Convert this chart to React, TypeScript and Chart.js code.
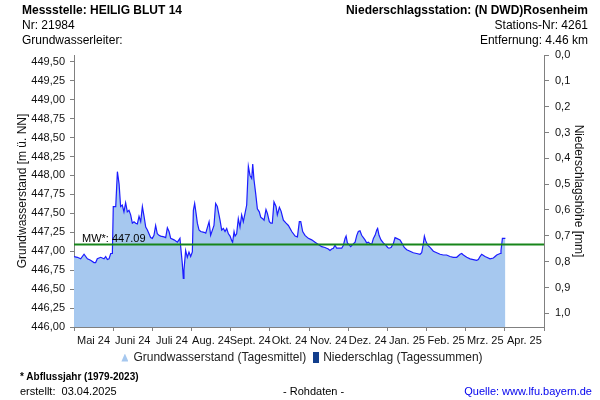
import React, { useEffect, useRef } from "react";
import { Chart, registerables } from "chart.js";

Chart.register(...registerables);

const monthLabels = ["Mai 24", "Juni 24", "Juli 24", "Aug. 24", "Sept. 24", "Okt. 24", "Nov. 24", "Dez. 24", "Jan. 25", "Feb. 25", "Mrz. 25", "Apr. 25"];

// days after 01.05.2024
const dayOffsets = [
  0, 2.6, 5.2, 7.8, 10.4, 12.9, 15.5, 16.8, 18.1, 20.7, 23.3, 24.6, 25.9, 27.2, 28.5, 29.8,
  30.5, 32.4, 33.7, 35.0, 36.2, 37.5, 38.8, 40.1, 41.4, 42.7, 44.0, 45.3, 46.6, 47.9, 49.2,
  50.5, 51.8, 53.1, 54.4, 55.7, 57.0, 59.5, 60.8, 62.1, 63.4, 64.7, 66.0, 67.3, 69.9, 71.2,
  72.5, 73.8, 75.1, 77.7, 80.3, 82.3, 82.8, 84.1, 84.9, 85.4, 86.7, 88.0, 89.3, 90.6, 91.9,
  92.7, 93.7, 94.8, 95.8, 97.1, 98.4, 101.0, 102.3, 104.9, 106.1, 108.7, 110.0, 111.3, 112.6,
  113.4, 114.7, 116.0, 117.3, 118.6, 119.9, 121.2, 122.5, 123.2, 124.3, 125.1, 126.3, 127.6,
  128.9, 130.2, 131.5, 132.8, 134.1, 135.4, 136.7, 138.0, 138.8, 139.8, 141.1, 142.4, 143.9,
  145.0, 146.5, 147.6, 149.1, 150.2, 151.7, 152.8, 154.0, 155.3, 156.9, 157.9, 159.5, 160.8,
  162.6, 164.7, 166.5, 169.1, 171.7, 173.5, 175.0, 176.1, 177.6, 179.4, 182.0, 184.6, 187.2,
  189.8, 192.4, 194.9, 196.2, 197.5, 198.8, 200.1, 201.4, 202.7, 204.0, 205.3, 207.9, 209.2,
  210.5, 211.3, 212.3, 213.9, 214.9, 216.5, 218.3, 219.6, 220.8, 222.1, 223.4, 226.0,
  227.3, 228.6, 229.9, 231.2, 232.5, 233.8, 235.1, 235.8, 236.9, 238.4, 240.2, 242.1, 243.6,
  244.6, 246.2, 248.0, 249.3, 250.6, 253.2, 254.5, 256.5, 258.4, 261.0, 263.5, 266.1, 268.7,
  270.0, 271.3, 272.1, 273.1, 274.7, 276.5, 279.1, 281.7, 284.3, 286.8, 289.4, 292.0, 294.6,
  297.2, 299.8, 301.1, 302.4, 305.0, 307.6, 310.1, 312.7, 314.0, 315.3, 316.6, 319.2, 320.5,
  323.1, 325.7, 327.0, 328.3, 330.9, 331.6, 332.7, 334.7, 335.0,
];

// Grundwasserstand [m ü. NN], daily means
const groundwaterLevels = [
  446.93, 446.92, 446.90, 446.96, 446.90, 446.88, 446.85, 446.85, 446.90, 446.92, 446.90, 446.93, 446.89, 446.90, 446.97, 446.97,
  447.59, 447.59, 448.05, 447.89, 447.59, 447.61, 447.52, 447.64, 447.52, 447.54, 447.48, 447.37, 447.39, 447.37, 447.36,
  447.46, 447.39, 447.59, 447.46, 447.32, 447.28, 447.18, 447.17, 447.21, 447.34, 447.23, 447.21, 447.20, 447.19, 447.18,
  447.31, 447.26, 447.17, 447.15, 447.12, 447.17, 447.07, 446.84, 446.64, 446.75, 447.01, 446.92, 446.99, 446.93, 446.99,
  447.54, 447.63, 447.50, 447.37, 447.28, 447.26, 447.25, 447.24, 447.39, 447.21, 447.34, 447.63, 447.59, 447.48,
  447.41, 447.28, 447.30, 447.26, 447.30, 447.23, 447.20, 447.14, 447.12, 447.26, 447.20, 447.23, 447.43,
  447.32, 447.48, 447.39, 447.50, 447.61, 448.12, 448.00, 447.96, 448.15, 447.94, 447.76, 447.56, 447.52,
  447.45, 447.43, 447.41, 447.55, 447.50, 447.39, 447.37, 447.37, 447.65, 447.59, 447.48, 447.58, 447.53,
  447.41, 447.37, 447.34, 447.26, 447.20, 447.19, 447.39, 447.39, 447.26, 447.21, 447.17, 447.15, 447.12,
  447.09, 447.06, 447.05, 447.04, 447.03, 447.01, 447.03, 447.04, 447.08, 447.04, 447.04, 447.04, 447.08,
  447.17, 447.20, 447.11, 447.08, 447.06, 447.09, 447.12, 447.21, 447.26, 447.27, 447.21, 447.15,
  447.11, 447.12, 447.10, 447.09, 447.17, 447.21, 447.28, 447.30, 447.21, 447.15, 447.11, 447.08, 447.05,
  447.04, 447.05, 447.10, 447.18, 447.17, 447.15, 447.11, 447.05, 447.02, 447.00, 446.98, 446.97, 446.96,
  446.98, 447.10, 447.20, 447.14, 447.08, 447.05, 447.00, 446.98, 446.96, 446.95, 446.95, 446.93, 446.92,
  446.92, 446.96, 446.97, 446.95, 446.92, 446.90, 446.89, 446.88, 446.89, 446.93, 446.96, 446.93, 446.92,
  446.90, 446.91, 446.93, 446.95, 446.97, 447.01, 447.17, 447.17, 447.17,
];

const meanLevel = 447.09;
const levelTicks = [446, 446.25, 446.5, 446.75, 447, 447.25, 447.5, 447.75, 448, 448.25, 448.5, 448.75, 449, 449.25, 449.5];
const precipTicks = [0, 0.1, 0.2, 0.3, 0.4, 0.5, 0.6, 0.7, 0.8, 0.9, 1.0];

const FONT = "'Liberation Sans', Arial, Helvetica, sans-serif";

const mwLabelPlugin = {
  id: "mwLabel",
  afterDatasetsDraw(chart: any) {
    const { ctx, chartArea, scales } = chart;
    const y = scales.y.getPixelForValue(meanLevel);
    ctx.save();
    ctx.font = `11px ${FONT}`;
    ctx.fillStyle = "#000";
    ctx.textBaseline = "alphabetic";
    ctx.textAlign = "left";
    ctx.fillText("MW*: " + meanLevel.toFixed(2), chartArea.left + 8, y - 2);
    ctx.restore();
  },
};

const txt: React.CSSProperties = {
  position: "absolute",
  fontFamily: FONT,
  fontSize: 12,
  lineHeight: "15px",
  color: "#000",
  whiteSpace: "pre",
};

export default function App() {
  const ref = useRef<HTMLCanvasElement>(null);

  useEffect(() => {
    document.body.style.margin = "0";
    Chart.defaults.font.family = FONT;
    const canvas = ref.current!;
    const chart = new Chart(canvas, {
      type: "line",
      data: {
        labels: monthLabels,
        datasets: [
          {
            label: "MW",
            data: [
              { x: 0, y: meanLevel },
              { x: 365, y: meanLevel },
            ],
            xAxisID: "xd",
            yAxisID: "y",
            borderColor: "#17851a",
            borderWidth: 2,
            pointRadius: 0,
            fill: false,
          },
          {
            label: "Grundwasserstand (Tagesmittel)",
            data: dayOffsets.map((d, i) => ({ x: d, y: groundwaterLevels[i] })),
            xAxisID: "xd",
            yAxisID: "y",
            borderColor: "#1c1cff",
            borderWidth: 1.2,
            backgroundColor: "#a6c8ef",
            fill: "start",
            pointRadius: 0,
            tension: 0,
          },
        ],
      },
      options: {
        animation: false,
        responsive: false,
        layout: { padding: { top: 55, bottom: 53, left: 0, right: 0 } },
        plugins: {
          legend: { display: false },
          tooltip: { enabled: false },
        },
        scales: {
          x: {
            type: "category",
            position: "bottom",
            offset: true,
            grid: { offset: true, drawOnChartArea: false, tickLength: 4, color: "#808080" },
            border: { display: true, color: "#808080" },
            ticks: { autoSkip: false, maxRotation: 0, minRotation: 0, padding: 3, color: "#111", font: { size: 11 } },
            afterFit: (s: any) => {
              s.height = 20;
            },
          },
          xd: { type: "linear", display: false, min: 0, max: 365 },
          y: {
            type: "linear",
            position: "left",
            min: 446,
            max: 449.59,
            afterBuildTicks: (s: any) => {
              s.ticks = levelTicks.map((v) => ({ value: v }));
            },
            ticks: {
              padding: 5,
              color: "#111",
              font: { size: 11 },
              callback: (v: any) => Number(v).toFixed(2).replace(".", ","),
            },
            grid: { drawOnChartArea: false, tickLength: 4, color: "#808080" },
            border: { display: true, color: "#808080" },
            title: {
              display: true,
              text: "Grundwasserstand [m ü. NN]",
              color: "#111",
              font: { size: 12 },
              padding: { top: 15, bottom: 0 },
            },
            afterFit: (s: any) => {
              s.width = 74;
            },
          },
          y2: {
            type: "linear",
            position: "right",
            reverse: true,
            min: 0,
            max: 1.053,
            afterBuildTicks: (s: any) => {
              s.ticks = precipTicks.map((v) => ({ value: v }));
            },
            ticks: {
              padding: 6,
              color: "#111",
              font: { size: 11 },
              callback: (v: any) => Number(v).toFixed(1).replace(".", ","),
            },
            grid: { drawOnChartArea: false, tickLength: 5, color: "#808080" },
            border: { display: true, color: "#808080" },
            title: {
              display: true,
              text: "Niederschlagshöhe [mm]",
              color: "#111",
              font: { size: 12 },
              padding: { top: 14, bottom: 0 },
            },
            afterFit: (s: any) => {
              s.width = 56;
            },
          },
        },
      } as any,
      plugins: [mwLabelPlugin],
    });
    return () => chart.destroy();
  }, []);

  return (
    <div style={{ position: "relative", width: 600, height: 400, background: "#fff", overflow: "hidden" }}>
      <canvas ref={ref} width={600} height={400} style={{ position: "absolute", left: 0, top: 0, width: 600, height: 400 }} />
      <div style={{ ...txt, left: 22, top: 3 }}>
        <div style={{ fontWeight: "bold" }}>Messstelle: HEILIG BLUT 14</div>
        <div>Nr: 21984</div>
        <div>Grundwasserleiter:</div>
      </div>
      <div style={{ ...txt, right: 12, top: 3, textAlign: "right" }}>
        <div style={{ fontWeight: "bold" }}>Niederschlagsstation: (N DWD)Rosenheim</div>
        <div>Stations-Nr: 4261</div>
        <div>Entfernung: 4.46 km</div>
      </div>
      <div
        style={{
          ...txt,
          left: 0,
          width: 604,
          top: 350,
          display: "flex",
          justifyContent: "center",
          alignItems: "center",
          color: "#222",
        }}
      >
        <span
          style={{
            display: "inline-block",
            width: 7,
            height: 8,
            background: "#a6c8ef",
            clipPath: "polygon(50% 0, 100% 100%, 0 100%)",
            marginRight: 5,
          }}
        />
        <span>Grundwasserstand (Tagesmittel)</span>
        <span style={{ display: "inline-block", width: 6, height: 11, background: "#123e8c", marginLeft: 7, marginRight: 4 }} />
        <span>Niederschlag (Tagessummen)</span>
      </div>
      <div style={{ ...txt, left: 20, top: 369, fontSize: 10, fontWeight: "bold" }}>* Abflussjahr (1979-2023)</div>
      <div style={{ ...txt, left: 20, top: 384, fontSize: 11 }}>erstellt:  03.04.2025</div>
      <div style={{ ...txt, left: 283, top: 384, fontSize: 11 }}>- Rohdaten -</div>
      <div style={{ ...txt, right: 8, top: 384, fontSize: 11, color: "#0000ee" }}>Quelle: www.lfu.bayern.de</div>
    </div>
  );
}
